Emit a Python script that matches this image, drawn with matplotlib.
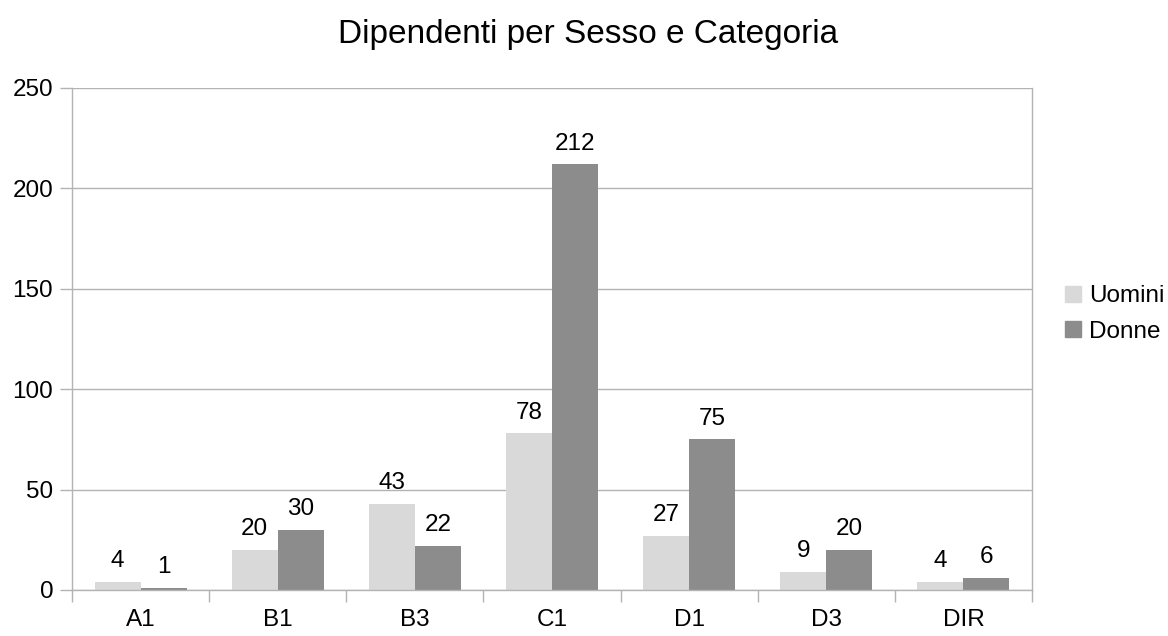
import numpy as np
import matplotlib
matplotlib.use("Agg")
import matplotlib.pyplot as plt
from matplotlib.patches import Patch

plt.rcParams['font.family'] = ['Liberation Sans', 'DejaVu Sans']

# Dati per categoria
categorie = ['A1', 'B1', 'B3', 'C1', 'D1', 'D3', 'DIR']
uomini = [4, 20, 43, 78, 27, 9, 4]
donne = [1, 30, 22, 212, 75, 20, 6]

COL_UOMINI = '#d9d9d9'
COL_DONNE = '#8c8c8c'
COL_AXIS = '#b3b3b3'
FS = 17.5

fig = plt.figure(figsize=(11.68, 6.36), dpi=100)
ax = fig.add_axes([72 / 1168, 46 / 636, 960 / 1168, 502 / 636])

x = np.arange(len(categorie))
w = 0.335
b1 = ax.bar(x - w / 2, uomini, w, color=COL_UOMINI, zorder=2)
b2 = ax.bar(x + w / 2, donne, w, color=COL_DONNE, zorder=2)

for bars, vals in ((b1, uomini), (b2, donne)):
    for rect, v in zip(bars, vals):
        ax.annotate(str(v), (rect.get_x() + rect.get_width() / 2, v),
                    xytext=(0, 7), textcoords='offset points',
                    ha='center', va='bottom', fontsize=FS)

ax.set_xlim(-0.5, len(categorie) - 0.5)
ax.set_ylim(0, 250)
ax.set_yticks(range(0, 251, 50))
ax.yaxis.grid(True, color=COL_AXIS, linewidth=1, zorder=0)
ax.set_axisbelow(True)

# tacche dell'asse x ai confini delle categorie
ax.set_xticks(x)
ax.set_xticklabels(categorie, fontsize=FS)
ax.set_xticks(np.arange(-0.5, len(categorie)), minor=True)
ax.tick_params(axis='x', which='major', length=0, pad=14)
ax.tick_params(axis='x', which='minor', length=8.5, color=COL_AXIS, width=1)
ax.tick_params(axis='y', length=8.5, color=COL_AXIS, width=1, labelsize=FS, pad=5)

for s in ('top', 'right'):
    ax.spines[s].set_visible(False)
for s in ('left', 'bottom'):
    ax.spines[s].set_color(COL_AXIS)
    ax.spines[s].set_linewidth(1)
ax.plot([1, 1], [0, 1], transform=ax.transAxes, color=COL_AXIS, lw=1, clip_on=False, zorder=1)

fig.text(588 / 1168, 1 - 35 / 636, 'Dipendenti per Sesso e Categoria',
         fontsize=24, ha='center', va='center')

handles = [Patch(color=COL_UOMINI, label='Uomini'), Patch(color=COL_DONNE, label='Donne')]
fig.legend(handles=handles, loc='center left', bbox_to_anchor=(1065 / 1168, 1 - 314 / 636),
           frameon=False, fontsize=FS, handlelength=0.65, handleheight=0.65,
           handletextpad=0.35, labelspacing=0.55, borderpad=0, borderaxespad=0)

fig.savefig('out.png', dpi=100)
